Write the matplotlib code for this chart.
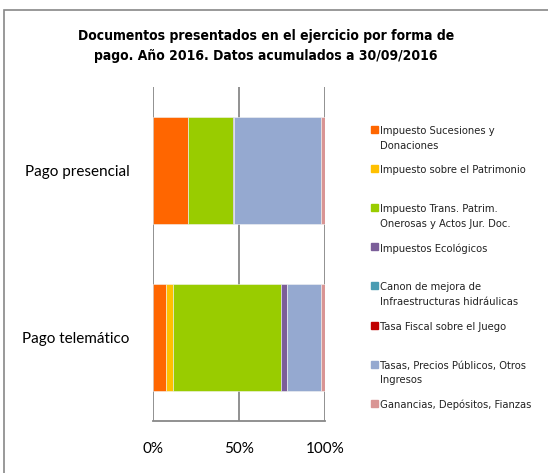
import matplotlib.pyplot as plt
from matplotlib.patches import Rectangle
import numpy as np

categories = ["Pago telemático", "Pago presencial"]
series = [
    "Impuesto Sucesiones y\nDonaciones",
    "Impuesto sobre el Patrimonio",
    "Impuesto Trans. Patrim.\nOnerosas y Actos Jur. Doc.",
    "Impuestos Ecológicos",
    "Canon de mejora de\nInfraestructuras hidráulicas",
    "Tasa Fiscal sobre el Juego",
    "Tasas, Precios Públicos, Otros\nIngresos",
    "Ganancias, Depósitos, Fianzas",
]
# percentages per series: [telemático, presencial]
values = [
    [7.5, 20.5],
    [4.0, 0.1],
    [62.8, 25.7],
    [3.5, 0.6],
    [0.0, 0.0],
    [0.0, 0.0],
    [19.9, 50.9],
    [2.3, 2.2],
]
colors = ["#FF6600", "#FFC000", "#99CC00", "#7B5E99",
          "#4A9CB2", "#C00000", "#95A9D0", "#D99594"]
xticks = [0, 50, 100]
xtick_labels = ["0%", "50%", "100%"]

body = ["Lato", "DejaVu Sans"]

fig = plt.figure(figsize=(5.48, 4.73), dpi=100)
ax = fig.add_axes([153 / 548, 1 - 421 / 473, 172 / 548, 334 / 473])

y = np.arange(len(categories))
left = np.zeros(len(categories))
for vals, col in zip(values, colors):
    ax.barh(y, vals, left=left, height=0.645, color=col,
            edgecolor="#f2f2f2", linewidth=0.4, zorder=3)
    left += np.array(vals)

ax.set_xlim(0, 100)
ax.set_ylim(-0.5, 1.5)
ax.set_xticks(xticks)
ax.set_xticklabels(xtick_labels, family=body, fontsize=11)
ax.set_yticks(y)
ax.set_yticklabels(categories, family=body, fontsize=11)
ax.tick_params(length=0, pad=17, axis="y")
ax.tick_params(length=0, pad=15, axis="x")
for x in xticks:
    ax.axvline(x, color="#888888", lw=1.3, zorder=1)
for s in ["top", "right", "left"]:
    ax.spines[s].set_visible(False)
ax.spines["bottom"].set_color("#888888")
ax.spines["bottom"].set_linewidth(1.3)

fig.text(266 / 548, 1 - 46 / 473,
         "Documentos presentados en el ejercicio por forma de\n"
         "pago. Año 2016. Datos acumulados a 30/09/2016",
         ha="center", va="center", fontsize=10, fontweight="bold",
         family="DejaVu Sans", fontstretch="condensed", linespacing=1.55)

# legend, drawn by hand to keep Excel's equal slots
for i, (lab, col) in enumerate(zip(series, colors)):
    yc = 132 + 39.1 * i
    fig.patches.append(Rectangle((371 / 548, 1 - (yc + 1) / 473), 7 / 548, 7 / 473,
                                 transform=fig.transFigure, color=col))
    fig.text(380 / 548, 1 - (yc - 6) / 473, lab, ha="left", va="top",
             fontsize=8, family="DejaVu Sans", fontstretch="condensed",
             linespacing=1.6, color="#222222")

fig.patches.append(Rectangle((4 / 548, -0.1), 1.2, 1 - 10 / 473 + 0.1,
                             transform=fig.transFigure, fill=False,
                             ec="#888888", lw=1.2))

fig.savefig("out.png", dpi=100)
